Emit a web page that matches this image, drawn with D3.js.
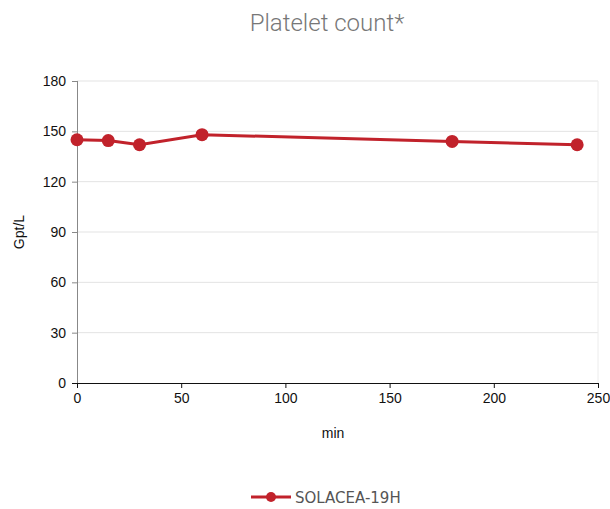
<!DOCTYPE html>
<html>
<head>
<meta charset="utf-8">
<script src="https://cdn.jsdelivr.net/npm/d3@7"></script>
<style>
	body { margin: 0; background: #fff; }
	svg text { font-family: "Liberation Sans", Arial, sans-serif; }
</style>
</head>
<body>
<div id="chart"></div>
<script>
/* global d3 */

var minutes = [0, 15, 30, 60, 180, 240],
	platelets = [145, 144.5, 142, 148, 144, 142],
	xTicks = [0, 50, 100, 150, 200, 250],
	yTicks = [0, 30, 60, 90, 120, 150, 180],
	seriesName = "SOLACEA-19H";

var width = 610,
	height = 509,
	margin = { top: 81, right: 12, bottom: 126, left: 77 },
	innerW = 598 - margin.left,
	innerH = 383 - margin.top,
	red = "#c1222b";

var data = minutes.map(function(m, i) { return { x: m, y: platelets[i] }; });

var svg = d3.select("#chart").append("svg")
	.attr("width", width)
	.attr("height", height);

var g = svg.append("g")
	.attr("transform", "translate(" + margin.left + "," + margin.top + ")");

var x = d3.scaleLinear().domain([0, 250]).range([0, innerW]),
	y = d3.scaleLinear().domain([0, 180]).range([innerH, 0]);

// gridlines
g.append("g")
	.selectAll("line")
	.data(yTicks.slice(1))
	.join("line")
	.attr("x1", 0)
	.attr("x2", innerW)
	.attr("y1", function(d) { return y(d); })
	.attr("y2", function(d) { return y(d); })
	.attr("stroke", "#e3e3e3")
	.attr("stroke-width", 1);

g.append("line")
	.attr("x1", innerW).attr("x2", innerW)
	.attr("y1", 0).attr("y2", innerH)
	.attr("stroke", "#ececec");

// y axis
g.append("g")
	.call(d3.axisLeft(y).tickValues(yTicks).tickSize(5).tickPadding(6))
	.call(function(a) {
		a.select(".domain").attr("stroke", "#888").attr("d", "M0.5," + innerH + "V0");
		a.selectAll(".tick line").attr("stroke", "#888");
		a.selectAll("text").attr("font-size", 14).attr("fill", "#111")
			.attr("font-family", "Liberation Sans, Arial, sans-serif");
	});

// x axis
g.append("g")
	.attr("transform", "translate(0," + innerH + ")")
	.call(d3.axisBottom(x).tickValues(xTicks).tickSize(5).tickPadding(5))
	.call(function(a) {
		a.select(".domain").attr("stroke", "#111").attr("d", "M-5,0.5H" + innerW);
		a.selectAll(".tick line").attr("stroke", "#111");
		a.selectAll("text").attr("font-size", 14).attr("fill", "#111")
			.attr("font-family", "Liberation Sans, Arial, sans-serif");
	});

// series
g.append("path")
	.datum(data)
	.attr("fill", "none")
	.attr("stroke", red)
	.attr("stroke-width", 3)
	.attr("d", d3.line()
		.x(function(d) { return x(d.x); })
		.y(function(d) { return y(d.y); }));

g.append("g")
	.selectAll("circle")
	.data(data)
	.join("circle")
	.attr("cx", function(d) { return x(d.x); })
	.attr("cy", function(d) { return y(d.y); })
	.attr("r", 6.5)
	.attr("fill", red);

// title and axis labels
svg.append("text")
	.attr("x", 327)
	.attr("y", 31)
	.attr("text-anchor", "middle")
	.attr("font-size", 24)
	.attr("font-weight", 300)
	.attr("fill", "#777")
	.style("font-family", "Roboto, sans-serif")
	.text("Platelet count*");

svg.append("text")
	.attr("transform", "translate(24," + (margin.top + innerH / 2) + ") rotate(-90)")
	.attr("text-anchor", "middle")
	.attr("font-size", 14)
	.attr("fill", "#111")
	.text("Gpt/L");

svg.append("text")
	.attr("x", 333)
	.attr("y", 438)
	.attr("text-anchor", "middle")
	.attr("font-size", 14)
	.attr("fill", "#111")
	.text("min");

// legend
var lg = svg.append("g").attr("transform", "translate(251,497)");
lg.append("line")
	.attr("x1", 0).attr("x2", 40)
	.attr("stroke", red).attr("stroke-width", 3);
lg.append("circle")
	.attr("cx", 20).attr("r", 5)
	.attr("fill", red);
lg.append("text")
	.attr("x", 44)
	.attr("y", 5.5)
	.attr("font-size", 15)
	.attr("fill", "#555")
	.style("font-family", "DejaVu Sans, Verdana, sans-serif")
	.text(seriesName);
</script>
</body>
</html>
